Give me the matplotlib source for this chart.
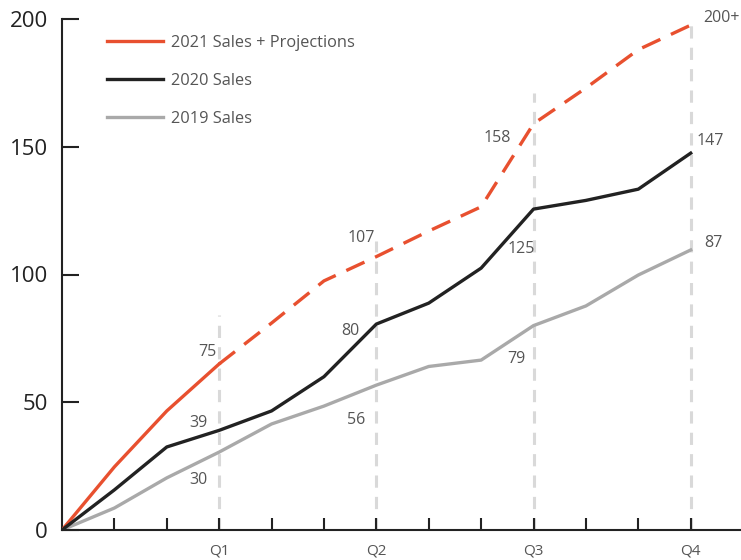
import matplotlib.pyplot as plt
from matplotlib.lines import Line2D

plt.rcParams['font.family'] = ['Open Sans', 'DejaVu Sans']

months = list(range(13))
sales_2021 = [0, 24.7, 46.6, 65, 81, 97.5, 107, 117, 126.5, 159, 173, 188, 197.6]
sales_2020 = [0, 15.7, 32.5, 39, 46.6, 60, 80.6, 88.8, 102.5, 125.6, 129, 133.4, 147.5]
sales_2019 = [0, 8.6, 20.4, 30.5, 41.5, 48.5, 56.7, 64, 66.5, 80, 87.7, 99.8, 109.6]

quarter_pos = [3, 6, 9, 12]
quarter_labels = ['Q1', 'Q2', 'Q3', 'Q4']
quarter_top = [84, 113, 171, 199]

# value labels: (x, y, text)
notes = [(2.77, 69.7, '75'), (2.61, 41.9, '39'), (2.61, 19.6, '30'),
         (5.71, 114.2, '107'), (5.51, 77.9, '80'), (5.61, 43.1, '56'),
         (8.30, 153.4, '158'), (8.76, 109.8, '125'), (8.68, 66.9, '79'),
         (12.58, 200.4, '200+'), (12.37, 152.2, '147'), (12.44, 112.3, '87')]

red = '#E8502F'
black = '#222222'
gray = '#a9a9a9'
text_col = '#555555'

fig = plt.figure(figsize=(7.41, 5.6), dpi=100)
ax = fig.add_axes([62 / 741, 30 / 560, 1 - 62 / 741, 511 / 560])

for q, top in zip(quarter_pos, quarter_top):
    ax.plot([q, q], [0, top], color='#d9d9d9', lw=2.2, dashes=(4, 3), zorder=1)

ax.plot(months[:4], sales_2021[:4], color=red, lw=2.4, zorder=3)
ax.plot(months[3:], sales_2021[3:], color=red, lw=2.4, dashes=(6, 3.5), zorder=3)
ax.plot(months, sales_2020, color=black, lw=2.4, zorder=3)
ax.plot(months, sales_2019, color=gray, lw=2.4, zorder=2)

for x, y, t in notes:
    ax.text(x, y, t, color=text_col, fontsize=11.5, ha='center', va='center',
            clip_on=False)

handles = [Line2D([], [], color=red, lw=2.4),
           Line2D([], [], color=black, lw=2.4),
           Line2D([], [], color=gray, lw=2.4)]
leg = ax.legend(handles, ['2021 Sales + Projections', '2020 Sales', '2019 Sales'],
                loc='upper left', bbox_to_anchor=(0.045, 0.998), frameon=False,
                fontsize=11.8, handlelength=3.4, handletextpad=0.5, labelspacing=1.35)
for t in leg.get_texts():
    t.set_color(text_col)

ax.set_xlim(0, 12.96)
ax.set_ylim(0, 200)
ax.set_yticks([0, 50, 100, 150, 200])
ax.set_xticks(range(1, 13))
ax.set_xticklabels(['', '', 'Q1', '', '', 'Q2', '', '', 'Q3', '', '', 'Q4'])
ax.tick_params(axis='y', direction='in', length=12, width=1.5, labelsize=16, pad=10, colors=black)
ax.tick_params(axis='x', direction='in', length=9, width=1.5, labelsize=11, pad=10,
               colors=black, labelcolor=text_col)
for s in ['top', 'right']:
    ax.spines[s].set_visible(False)
for s in ['left', 'bottom']:
    ax.spines[s].set_linewidth(1.5)
    ax.spines[s].set_color(black)

fig.savefig('out.png', dpi=100)
